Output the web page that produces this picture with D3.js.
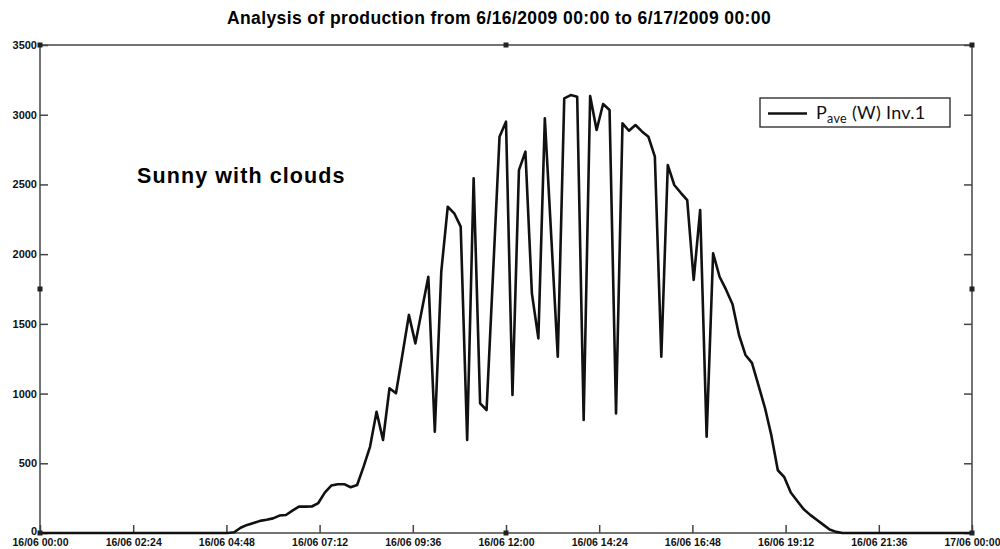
<!DOCTYPE html>
<html>
<head>
<meta charset="utf-8">
<script src="https://cdn.jsdelivr.net/npm/d3@7"></script>
<style>
  body { margin: 0; background: #fff; }
  svg { display: block; }
  .axis path, .axis line { stroke: #444; stroke-width: 1.5; }
  .axis text { font-family: "Liberation Sans", Arial, sans-serif; font-weight: bold; fill: #111; }
  .line { fill: none; stroke: #111; stroke-width: 2.6; stroke-linejoin: round; }
</style>
</head>
<body>
<svg></svg>
<script>
var margin = { top: 45, right: 28, bottom: 16, left: 40 },
    width = 1000 - margin.left - margin.right,
    height = 549 - margin.top - margin.bottom;

// sample times (hh:mm on 16/06/2009, "24:00" = 17/06 00:00) and mean power (W)
var times = ["00:00",
  "04:50", "05:00", "05:10", "05:20", "05:30", "05:40", "05:50",
  "06:00", "06:10", "06:20", "06:30", "06:40", "06:50",
  "07:00", "07:10", "07:20", "07:30", "07:40", "07:50",
  "08:00", "08:10", "08:20", "08:30", "08:40", "08:50",
  "09:00", "09:10", "09:20", "09:30", "09:40", "09:50",
  "10:00", "10:10", "10:20", "10:30", "10:40", "10:50",
  "11:00", "11:10", "11:20", "11:30", "11:40", "11:50",
  "12:00", "12:10", "12:20", "12:30", "12:40", "12:50",
  "13:00", "13:10", "13:20", "13:30", "13:40", "13:50",
  "14:00", "14:10", "14:20", "14:30", "14:40", "14:50",
  "15:00", "15:10", "15:20", "15:30", "15:40", "15:50",
  "16:00", "16:10", "16:20", "16:30", "16:40", "16:50",
  "17:00", "17:10", "17:20", "17:30", "17:40", "17:50",
  "18:00", "18:10", "18:20", "18:30", "18:40", "18:50",
  "19:00", "19:10", "19:20", "19:30", "19:40", "19:50",
  "20:00", "20:10", "20:20", "20:30", "20:40",
  "24:00"];
var power = [0,
  0, 5, 38, 58, 72, 87, 95,
  105, 125, 129, 160, 189, 189,
  190, 215, 290, 340, 350, 350,
  328, 344, 476, 620, 870, 667,
  1038, 1002, 1280, 1564, 1360, 1600,
  1838, 727, 1874, 2340, 2293, 2197,
  667, 2544, 930, 882, 1860, 2842,
  2950, 990, 2603, 2735, 1719, 1396,
  2974, 2120, 1264, 3117, 3141, 3129,
  810, 3134, 2890, 3077, 3034, 858,
  2938, 2885, 2926, 2880, 2842, 2699,
  1264, 2639, 2496, 2440, 2388, 1815,
  2317, 691, 2006, 1838, 1745, 1640,
  1420, 1277, 1220, 1060, 900, 700,
  450, 400, 290, 230, 170, 130,
  95, 60, 25, 8, 0,
  0];

var xTicks = ["00:00", "02:24", "04:48", "07:12", "09:36", "12:00", "14:24", "16:48", "19:12", "21:36", "24:00"];
var yTicks = [0, 500, 1000, 1500, 2000, 2500, 3000, 3500];

var title = "Analysis of production from 6/16/2009 00:00 to 6/17/2009 00:00";
var note = "Sunny with clouds";

var day = new Date(2009, 5, 16);
function toDate(t) {
  var p = t.split(":");
  return d3.timeMinute.offset(day, (+p[0]) * 60 + (+p[1]));
}

var data = times.map(function(t, i) {
  return { time: toDate(t), value: power[i] };
});

var x = d3.scaleTime()
    .domain([toDate("00:00"), toDate("24:00")])
    .range([0, width]);
var y = d3.scaleLinear()
    .domain([0, 3500])
    .range([height, 0]);

var root = d3.select("svg")
    .attr("width", 1000)
    .attr("height", 549);

root.append("text")
    .attr("x", 499)
    .attr("y", 24)
    .attr("text-anchor", "middle")
    .style("font-family", "Liberation Sans, Arial, sans-serif")
    .style("font-weight", "bold")
    .style("font-size", "17.5px")
    .style("letter-spacing", "0.4px")
    .text(title);

var svg = root.append("g")
    .attr("transform", "translate(" + margin.left + "," + margin.top + ")");

var fmt = d3.timeFormat("%d/%m %H:%M");

// box: top and right edges
svg.append("line")
    .attr("x1", 0).attr("x2", width).attr("y1", 0).attr("y2", 0)
    .style("stroke", "#444").style("stroke-width", 1.5);
svg.append("g")
    .attr("class", "axis")
    .attr("transform", "translate(" + width + ",0)")
    .call(d3.axisLeft(y).tickValues(yTicks).tickSize(8).tickFormat(""))
    .select(".domain").attr("d", "M0,0V" + height);

svg.append("g")
    .attr("class", "axis axis--y")
    .call(d3.axisRight(y).tickValues(yTicks).tickSize(8).tickFormat(d3.format("d")))
    .call(function(g) {
      g.select(".domain").attr("d", "M0,0V" + height);
      g.selectAll("text").attr("text-anchor", "end").attr("x", -3).style("font-size", "11px");
      g.selectAll(".tick").filter(function(d) { return d === 0; })
        .select("text").attr("dy", "0.1em");
    });

svg.append("g")
    .attr("class", "axis axis--x")
    .attr("transform", "translate(0," + height + ")")
    .call(d3.axisTop(x).tickValues(xTicks.map(toDate)).tickSize(8).tickFormat(fmt))
    .call(function(g) {
      g.select(".domain").attr("d", "M0,0H" + width);
      g.selectAll("text").attr("y", 12.5).attr("dy", 0).style("font-size", "10.5px");
    });

var line = d3.line()
    .x(function(d) { return x(d.time); })
    .y(function(d) { return y(d.value); });

svg.append("path")
    .datum(data)
    .attr("class", "line")
    .attr("d", line);

// selection handles (corners and midpoints)
var handles = [[0, 0], [width / 2, 0], [width, 0], [0, height / 2], [width, height / 2],
               [0, height], [width / 2, height], [width, height]];
svg.selectAll(".handle")
    .data(handles)
    .enter().append("rect")
    .attr("class", "handle")
    .attr("x", function(d) { return d[0] - 2.5; })
    .attr("y", function(d) { return d[1] - 2.5; })
    .attr("width", 5)
    .attr("height", 5)
    .style("fill", "#222");

// annotation
svg.append("text")
    .attr("x", 97)
    .attr("y", 138)
    .style("font-family", "Liberation Sans, Arial, sans-serif")
    .style("font-weight", "bold")
    .style("font-size", "21.5px")
    .style("letter-spacing", "1.1px")
    .text(note);

// legend
var legend = svg.append("g")
    .attr("transform", "translate(" + (760 - margin.left) + "," + (98 - margin.top) + ")");
legend.append("rect")
    .attr("width", 190)
    .attr("height", 29)
    .style("fill", "#fff")
    .style("stroke", "#222")
    .style("stroke-width", 1.3);
legend.append("line")
    .attr("x1", 8).attr("x2", 47)
    .attr("y1", 15.5).attr("y2", 15.5)
    .style("stroke", "#111")
    .style("stroke-width", 2.6);
var lt = legend.append("text")
    .attr("x", 56)
    .attr("y", 21)
    .style("font-family", "Lato, 'Open Sans', sans-serif")
    .style("font-size", "18px")
    .style("letter-spacing", "0.3px")
    .style("fill", "#111");
lt.append("tspan").text("P");
lt.append("tspan").attr("dy", 4).style("font-size", "12.5px").text("ave");
lt.append("tspan").attr("dy", -4).text(" (W) Inv.1");
</script>
</body>
</html>
